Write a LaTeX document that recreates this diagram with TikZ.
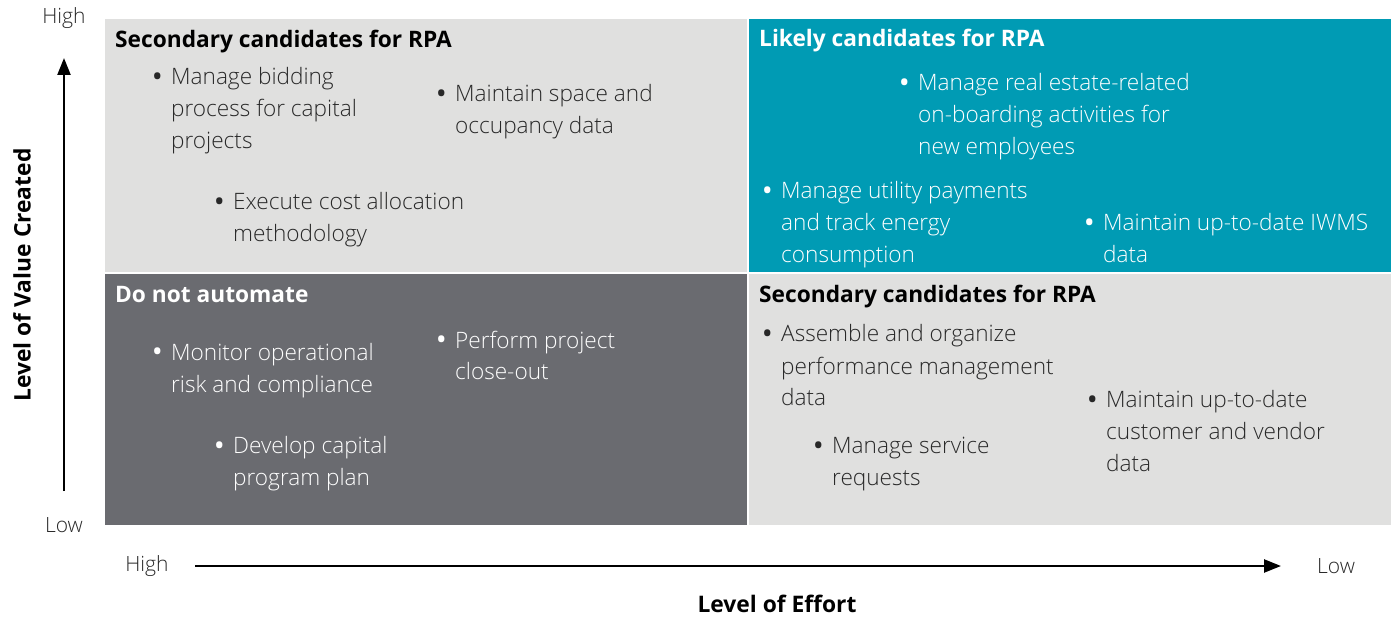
\documentclass[tikz,border=0pt]{standalone}
\usepackage{fontspec}
\setmainfont{Open Sans}[UprightFont=* Light, BoldFont=* Bold]
\usetikzlibrary{arrows.meta}
\definecolor{paleq}{RGB}{224,224,223}
\definecolor{tealq}{RGB}{0,155,180}
\definecolor{darkq}{RGB}{106,107,112}
\definecolor{inkq}{RGB}{40,40,40}
% #1 name, #2 x of text, #3 first baseline, #4 number of lines, #5 colour, #6 text
\newcommand\bulletitem[6]{%
  \node[bulletmark, text=#5] (#1b) at (#2-18,#3) {\textbullet};
  \node[itemtext, text=#5] (#1) at (#2,#3+32*#4-32) {#6};}
\begin{document}
\begin{tikzpicture}[x=1pt,y=-1pt,
  itemtext/.style={anchor=base west, inner sep=0pt, align=left,
    font=\fontsize{22.6}{32}\selectfont},
  bulletmark/.style={anchor=base west, inner sep=0pt,
    font=\fontsize{22.6}{32}\selectfont\bfseries},
  heading/.style={anchor=base west, inner sep=0pt,
    font=\fontsize{22.7}{26}\selectfont\bfseries},
  axisend/.style={inner sep=0pt, text=inkq,
    font=\fontsize{21}{24}\selectfont},
  axistitle/.style={inner sep=0pt, font=\fontsize{22.8}{26}\selectfont\bfseries},
  axisline/.style={line width=2.4pt, -{Triangle[length=17pt,width=13pt]}}]
\useasboundingbox[fill=white] (0,0) rectangle (1392,617);

% quadrants
\fill[paleq] (105,19) rectangle (747,272);
\fill[tealq] (749,19) rectangle (1391,272);
\fill[darkq] (105,274) rectangle (747,525);
\fill[paleq] (749,274) rectangle (1391,525);

% upper left
\node[heading, text=black] (h1) at (115,48) {Secondary candidates for RPA};
\bulletitem{a1}{171}{85}{3}{inkq}{Manage bidding\\process for capital\\projects}
\bulletitem{a2}{455}{102}{2}{inkq}{Maintain space and\\occupancy data}
\bulletitem{a3}{233}{210}{2}{inkq}{Execute cost allocation\\methodology}

% upper right
\node[heading, text=white] (h2) at (759,47) {Likely candidates for RPA};
\bulletitem{b1}{918}{91}{3}{white}{Manage real estate-related\\on-boarding activities for\\new employees}
\bulletitem{b2}{781}{199}{3}{white}{Manage utility payments\\and track energy\\consumption}
\bulletitem{b3}{1103}{231}{2}{white}{Maintain up-to-date IWMS\\data}

% lower left
\node[heading, text=white] (h3) at (115,303) {Do not automate};
\bulletitem{c1}{171}{360}{2}{white}{Monitor operational\\risk and compliance}
\bulletitem{c2}{455}{348}{2}{white}{Perform project\\close-out}
\bulletitem{c3}{233}{453}{2}{white}{Develop capital\\program plan}

% lower right
\node[heading, text=black] (h4) at (759,303) {Secondary candidates for RPA};
\bulletitem{d1}{781}{342}{3}{inkq}{Assemble and organize\\performance management\\data}
\bulletitem{d2}{832}{453}{2}{inkq}{Manage service\\requests}
\bulletitem{d3}{1106}{407}{3}{inkq}{Maintain up-to-date\\customer and vendor\\data}

% axes
\node[axisend] (vhigh) at (64,18) {High};
\node[axisend] (vlow) at (64,525) {Low};
\node[axisend] (hhigh) at (147,566) {High};
\node[axisend] (hlow) at (1336,566) {Low};
\coordinate (vstart) at (64,491);
\coordinate (vend) at (64,58);
\coordinate (hstart) at (195,566);
\coordinate (hend) at (1281,566);
\draw[axisline] (vstart) -- (vend);
\draw[axisline] (hstart) -- (hend);
\node[axistitle, rotate=90] (vtitle) at (22,275) {Level of Value Created};
\node[axistitle] (htitle) at (777,604) {Level of Effort};
\end{tikzpicture}
\end{document}
